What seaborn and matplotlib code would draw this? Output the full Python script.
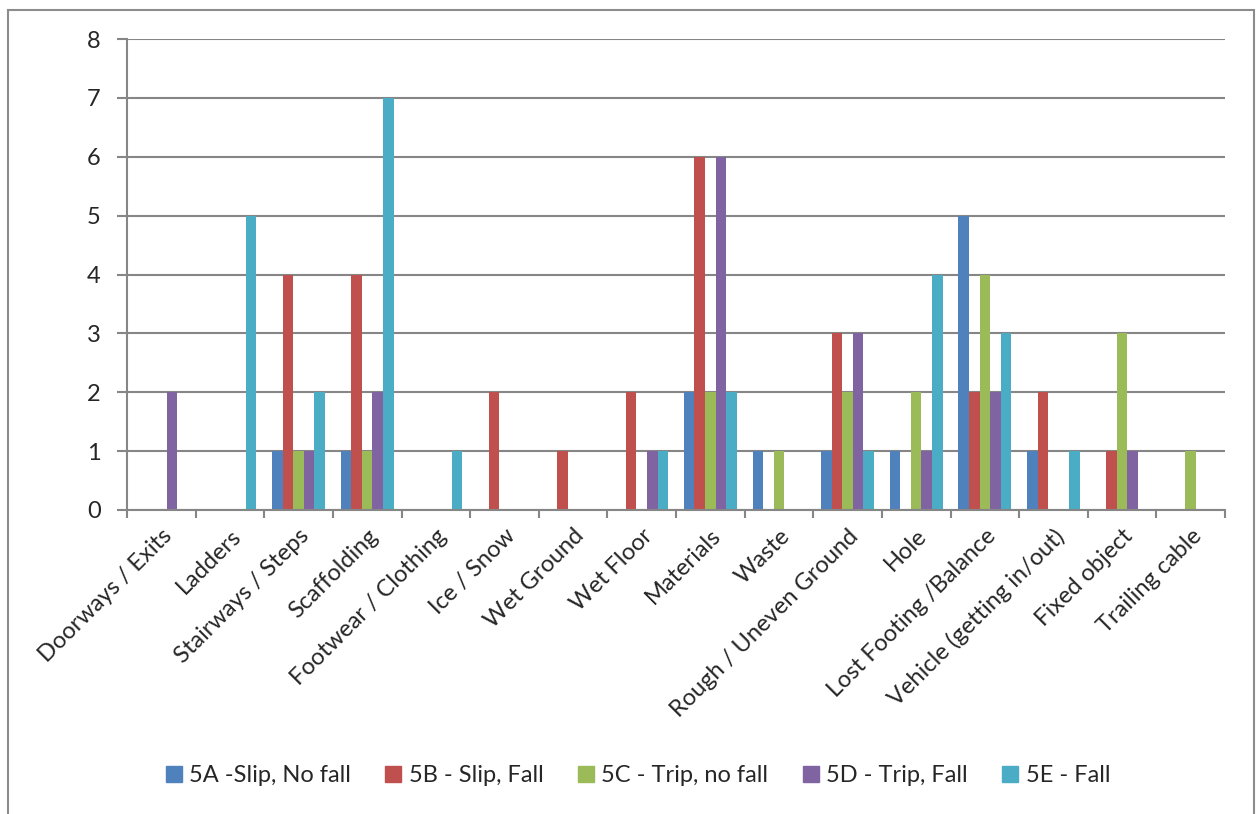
import matplotlib
matplotlib.use("Agg")
import matplotlib.pyplot as plt
import seaborn as sns
import pandas as pd
import numpy as np
from matplotlib.patches import Rectangle

categories = [
    "Doorways / Exits", "Ladders", "Stairways / Steps", "Scaffolding",
    "Footwear / Clothing", "Ice / Snow", "Wet Ground", "Wet Floor",
    "Materials", "Waste", "Rough / Uneven Ground", "Hole",
    "Lost Footing /Balance", "Vehicle (getting in/out)", "Fixed object",
    "Trailing cable",
]
series_names = ["5A -Slip, No fall", "5B - Slip, Fall", "5C - Trip, no fall",
                "5D - Trip, Fall", "5E - Fall"]
slip_no_fall = [0, 0, 1, 1, 0, 0, 0, 0, 2, 1, 1, 1, 5, 1, 0, 0]
slip_fall = [0, 0, 4, 4, 0, 2, 1, 2, 6, 0, 3, 0, 2, 2, 1, 0]
trip_no_fall = [0, 0, 1, 1, 0, 0, 0, 0, 2, 1, 2, 2, 4, 0, 3, 1]
trip_fall = [2, 0, 1, 2, 0, 0, 0, 1, 6, 0, 3, 1, 2, 0, 1, 0]
fall = [0, 5, 2, 7, 1, 0, 0, 1, 2, 0, 1, 4, 3, 1, 0, 0]
y_ticks = [0, 1, 2, 3, 4, 5, 6, 7, 8]

colors = ["#4F81BD", "#C0504D", "#9BBB59", "#8064A2", "#4BACC6"]

series_values = [slip_no_fall, slip_fall, trip_no_fall, trip_fall, fall]
rows = []
for name, vals in zip(series_names, series_values):
    for cat, v in zip(categories, vals):
        rows.append({"Cause": cat, "Type": name, "Count": v})
df = pd.DataFrame(rows)

sns.set_theme(style="white")
plt.rcParams["font.family"] = ["Lato", "DejaVu Sans"]

fig = plt.figure(figsize=(12.56, 8.14), dpi=100)
ax = fig.add_axes([127 / 1256, 1 - 510 / 814, (1225 - 127) / 1256, (510 - 39) / 814])

sns.barplot(data=df, x="Cause", y="Count", hue="Type", order=categories,
            hue_order=series_names, palette=colors, width=5 / 6.5,
            saturation=1, errorbar=None, ax=ax, legend=False, linewidth=0)

grid_color = "#868686"
ax.set_ylim(0, 8)
ax.set_xlim(-0.5, len(categories) - 0.5)
ax.set_yticks(y_ticks)
ax.set_yticklabels([str(t) for t in y_ticks], fontsize=17)
ax.yaxis.grid(True, color=grid_color, linewidth=1.5)
ax.set_axisbelow(True)
ax.set_xlabel("")
ax.set_ylabel("")

ax.set_xticks(range(len(categories)))
ax.set_xticklabels(categories, rotation=45, ha="right", rotation_mode="anchor",
                   fontsize=17)
ax.set_xticks(np.arange(-0.5, len(categories), 1.0), minor=True)
ax.tick_params(axis="x", which="major", length=0, pad=11)
ax.tick_params(axis="x", which="minor", length=6, width=1.5, color=grid_color,
               direction="out", bottom=True)
ax.tick_params(axis="y", which="major", length=7, width=1.5, color=grid_color,
               direction="out", left=True, pad=12)

for side in ["top", "right"]:
    ax.spines[side].set_visible(False)
for side in ["left", "bottom"]:
    ax.spines[side].set_color(grid_color)
    ax.spines[side].set_linewidth(1.5)

# legend with square swatches along the bottom
handles = [plt.Line2D([], [], marker="s", linestyle="", markersize=11,
                      markerfacecolor=c, markeredgecolor=c) for c in colors]
fig.legend(handles, series_names, loc="center", ncol=5, frameon=False,
           bbox_to_anchor=(636 / 1256, 1 - 776 / 814), fontsize=17,
           handletextpad=0.15, columnspacing=1.3, handlelength=1.0)

# outer chart frame
fig.patches.append(Rectangle((8 / 1256, -0.1), (1254 - 8) / 1256, 1.1 - 10 / 814,
                             transform=fig.transFigure, fill=False,
                             edgecolor="#8c8c8c", linewidth=1.5))

fig.savefig("out.png", dpi=100)
